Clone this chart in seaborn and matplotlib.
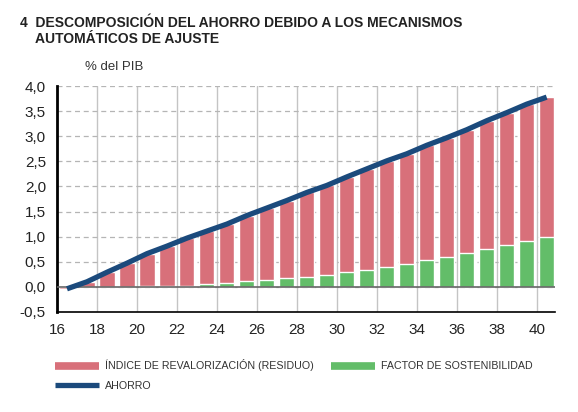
import numpy as np
import pandas as pd
import matplotlib
matplotlib.use('Agg')
import matplotlib.pyplot as plt
import seaborn as sns
from matplotlib.lines import Line2D
from matplotlib.ticker import FuncFormatter, MultipleLocator
from matplotlib import font_manager

# --- datos (años 2016-2040, % del PIB) ---
anios = list(range(16, 41))
ahorro = [-0.04, 0.10, 0.29, 0.47, 0.66, 0.81, 0.97, 1.11, 1.25, 1.42,
          1.57, 1.72, 1.88, 2.02, 2.19, 2.35, 2.51, 2.65, 2.82, 2.97,
          3.13, 3.31, 3.47, 3.64, 3.78]
factor_sostenibilidad = [0.0, 0.0, 0.0, 0.0, 0.01, 0.01, 0.02, 0.05, 0.08, 0.11,
                         0.13, 0.17, 0.19, 0.24, 0.29, 0.34, 0.39, 0.46, 0.53, 0.59,
                         0.67, 0.75, 0.83, 0.91, 0.99]
indice_revalorizacion = [a - f for a, f in zip(ahorro, factor_sostenibilidad)]

xticks = list(range(16, 41, 2))
titulo = "4  DESCOMPOSICIÓN DEL AHORRO DEBIDO A LOS MECANISMOS\n    AUTOMÁTICOS DE AJUSTE"
etiquetas = ["ÍNDICE DE REVALORIZACIÓN (RESIDUO)", "FACTOR DE SOSTENIBILIDAD", "AHORRO"]

ROJO = '#d8707a'
VERDE = '#63bd69'
AZUL = '#1b4a7c'

df = pd.DataFrame({
    'pos': [a + 0.5 for a in anios],
    'ahorro': ahorro,
    'factor': factor_sostenibilidad,
    'indice': indice_revalorizacion,
})

sns.set_style('white')
plt.rcParams['font.family'] = ['Liberation Sans', 'DejaVu Sans']

# fuente estrecha para la leyenda, si existe
nombres = {f.name for f in font_manager.fontManager.ttflist}
fuente_leyenda = 'Liberation Sans Narrow' if 'Liberation Sans Narrow' in nombres else 'Liberation Sans'
tam_leyenda = 8.6 if fuente_leyenda == 'Liberation Sans Narrow' else 7.7
px = tam_leyenda * 100 / 72

fig = plt.figure(figsize=(5.78, 4.12), dpi=100)
ax = fig.add_axes([0.0986, 0.243, 0.861, 0.548])

# barras apiladas: total (rojo) y factor de sostenibilidad (verde) encima desde 0
sns.barplot(data=df, x='pos', y='ahorro', native_scale=True, width=0.76,
            color=ROJO, saturation=1, ax=ax, zorder=2)
sns.barplot(data=df, x='pos', y='factor', native_scale=True, width=0.76,
            color=VERDE, saturation=1, ax=ax, zorder=3)
sns.lineplot(data=df, x='pos', y='ahorro', color=AZUL, linewidth=3.8,
             ax=ax, zorder=5, solid_capstyle='butt')

ax.set_xlim(16, 40.9)
ax.set_ylim(-0.5, 4.0)
ax.set_xticks(xticks)
ax.yaxis.set_major_locator(MultipleLocator(0.5))
ax.yaxis.set_major_formatter(FuncFormatter(lambda v, p: f"{v:.1f}".replace('.', ',')))
ax.set_xlabel('')
ax.set_ylabel('')

ax.grid(axis='y', linestyle=(0, (4, 3)), color='#b5b5b5', linewidth=0.9, zorder=0)
ax.grid(axis='x', linestyle='-', color='#c4c4c4', linewidth=1.0, zorder=0)
ax.set_axisbelow(True)
ax.hlines(0, 16, 40.9, color='#666666', linewidth=1.2, zorder=4)

for s in ['top', 'right']:
    ax.spines[s].set_visible(False)
ax.spines['left'].set_color('black')
ax.spines['left'].set_linewidth(2.0)
ax.spines['bottom'].set_color('black')
ax.spines['bottom'].set_linewidth(1.2)
ax.tick_params(axis='x', direction='in', length=5, width=1, color='#444444',
               labelsize=11, pad=8, labelcolor='#222222')
ax.tick_params(axis='y', length=0, labelsize=11, pad=8, labelcolor='#222222')

fig.text(0.035, 0.96, titulo, fontsize=10.0, fontweight='bold', color='#222222',
         va='top', ha='left', linespacing=1.15)
fig.text(0.147, 0.822, "% del PIB", fontsize=9.5, color='#333333', ha='left', va='bottom')

handles = [Line2D([], [], color=ROJO, linewidth=5.5, solid_capstyle='butt'),
           Line2D([], [], color=AZUL, linewidth=3.8, solid_capstyle='butt'),
           Line2D([], [], color=VERDE, linewidth=5.5, solid_capstyle='butt')]
fig.legend(handles, [etiquetas[0], etiquetas[2], etiquetas[1]], ncol=2,
           loc='upper left', bbox_to_anchor=(0.088, 0.138), frameon=False,
           prop={'family': fuente_leyenda, 'size': tam_leyenda},
           handlelength=44 / px, handletextpad=0.55,
           columnspacing=17 / px,
           labelspacing=0.85, borderaxespad=0, labelcolor='#333333')

fig.savefig('out.png', dpi=100)
